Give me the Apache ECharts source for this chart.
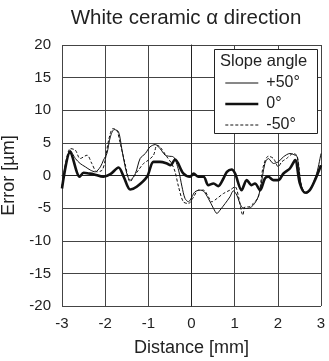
<!DOCTYPE html>
<html><head><meta charset="utf-8">
<script src="https://cdn.jsdelivr.net/npm/echarts@6/dist/echarts.min.js"></script>
<style>html,body{margin:0;padding:0;background:#fff}#c{width:329px;height:361px}</style>
</head><body><div id="c"></div>
<script>
const titleText = 'White ceramic \u03b1 direction';
const xTicks = [-3, -2, -1, 0, 1, 2, 3];
const yTicks = [-20, -15, -10, -5, 0, 5, 10, 15, 20];
const seriesNames = ['+50\u00b0', '0\u00b0', '-50\u00b0'];

const posX = [-3.00,-2.81,-2.69,-2.58,-2.46,-2.34,-2.23,-2.11,-2.04,-1.96,-1.88,-1.79,-1.69,-1.61,-1.50,-1.42,-1.30,-1.19,-1.07,-0.96,-0.84,-0.73,-0.61,-0.53,-0.42,-0.30,-0.22,-0.15,-0.07,0.01,0.08,0.20,0.28,0.39,0.51,0.59,0.66,0.78,0.89,0.97,1.05,1.16,1.28,1.39,1.51,1.59,1.70,1.78,1.90,2.01,2.13,2.28,2.40,2.45,2.55,2.67,2.78,2.90,3.00];
const posY = [-1.73,3.88,2.60,1.84,1.33,0.82,0.56,1.33,2.35,3.37,5.92,7.04,6.68,3.88,0.31,-0.71,0.31,2.60,3.37,4.39,4.74,4.13,3.11,2.96,2.86,0.82,-1.73,-3.52,-4.03,-3.27,-2.50,-2.24,-2.40,-3.52,-5.05,-5.82,-5.31,-4.29,-3.27,-2.35,-3.01,-4.80,-5.05,-4.80,-3.78,-2.24,1.84,2.60,1.84,2.09,2.86,3.37,3.11,2.86,-1.73,-2.76,-1.73,0.31,3.37];

const zeroX = [-3.00,-2.81,-2.59,-2.50,-2.38,-2.27,-2.04,-1.88,-1.69,-1.57,-1.42,-1.27,-1.03,-0.88,-0.73,-0.57,-0.49,-0.38,-0.19,-0.03,0.05,0.16,0.28,0.39,0.51,0.62,0.74,0.82,0.93,1.01,1.16,1.28,1.39,1.47,1.59,1.70,1.78,1.90,2.01,2.13,2.28,2.40,2.51,2.63,2.74,2.86,3.00];
const zeroY = [-1.99,3.62,-0.20,0.41,0.31,0.20,-0.20,0.20,1.22,-0.20,-2.14,-1.73,-0.20,2.09,2.09,1.84,1.58,2.45,0.31,-0.20,0.31,-0.20,-0.20,-1.48,-1.22,-1.63,-0.46,0.56,0.92,0.31,-2.24,-0.71,-1.48,-1.22,-2.24,-0.46,-0.20,-0.71,-0.71,0.31,1.07,2.35,-1.22,-2.65,-2.24,-0.71,1.58];

const negX = [-3.00,-2.81,-2.69,-2.58,-2.42,-2.31,-2.19,-2.07,-2.00,-1.92,-1.82,-1.73,-1.65,-1.54,-1.42,-1.34,-1.23,-1.11,-1.00,-0.88,-0.80,-0.73,-0.57,-0.46,-0.38,-0.30,-0.19,-0.07,0.05,0.16,0.28,0.39,0.47,0.59,0.74,0.89,1.01,1.09,1.19,1.24,1.32,1.43,1.55,1.66,1.78,1.90,2.01,2.09,2.20,2.36,2.45,2.55,2.67,2.78,2.90,3.00];
const negY = [-1.73,4.13,3.88,2.60,3.11,1.84,0.56,0.82,2.35,5.41,7.19,6.94,4.90,1.84,-0.97,-0.20,0.82,1.84,2.35,3.11,4.64,4.39,2.86,1.84,0.56,-1.73,-4.03,-4.29,-3.27,-2.24,-2.24,-3.27,-4.03,-3.52,-2.76,-2.24,-1.73,-3.27,-6.07,-4.80,-4.80,-4.29,-3.27,1.33,2.96,2.60,1.33,2.09,2.60,3.37,2.96,-1.73,-2.76,-1.73,-0.20,1.58];

const zip = (xs, ys) => xs.map((x, i) => [x, ys[i]]);
const font = 'Liberation Sans';
const txt = '#222';
const styles = [
  {color: '#111', width: 1, type: 'solid'},
  {color: '#111', width: 2.6, type: 'solid'},
  {color: '#111', width: 1, type: [3, 2]}
];

const chart = echarts.init(document.getElementById('c'), null, {renderer: 'canvas'});
chart.setOption({
  animation: false,
  backgroundColor: '#fff',
  title: {text: titleText, left: 181, top: 3, textAlign: 'center',
    textStyle: {fontFamily: font, fontSize: 20.5, fontWeight: 'normal', color: txt}},
  grid: {left: 62, right: 8, top: 45, bottom: 55, outerBoundsMode: 'none', containLabel: false},
  xAxis: {type: 'value', min: xTicks[0], max: xTicks[xTicks.length-1], interval: 1,
    name: 'Distance [mm]', nameLocation: 'middle', nameGap: 33,
    nameTextStyle: {fontFamily: font, fontSize: 18, color: txt},
    axisLine: {lineStyle: {color: '#222', width: 1}}, axisTick: {show: false},
    axisLabel: {fontFamily: font, fontSize: 15, color: txt, margin: 10},
    splitLine: {show: true, lineStyle: {color: '#444', width: 1}}},
  yAxis: {type: 'value', min: yTicks[0], max: yTicks[yTicks.length-1], interval: 5,
    name: 'Error [\u00b5m]', nameLocation: 'middle', nameGap: 31,
    nameTextStyle: {fontFamily: font, fontSize: 18, color: txt},
    axisLine: {show: true, lineStyle: {color: '#222', width: 1}}, axisTick: {show: false},
    axisLabel: {fontFamily: font, fontSize: 15, color: txt, margin: 11},
    splitLine: {show: true, lineStyle: {color: '#444', width: 1}}},
  legend: {orient: 'vertical', left: 219, top: 70, itemGap: 5, itemWidth: 33, itemHeight: 14, z: 30,
    itemStyle: {opacity: 0},
    textStyle: {fontFamily: font, fontSize: 16, color: txt, padding: [0,0,0,3]},
    data: seriesNames.map((n, i) => ({name: n, lineStyle: styles[i]}))},
  graphic: [
    {type: 'rect', left: 214, top: 49, shape: {width: 103, height: 84}, z: 10,
      style: {fill: '#fff', stroke: '#222', lineWidth: 1}},
    {type: 'text', left: 220, top: 53, z: 31,
      style: {text: 'Slope angle', font: '16.5px "Liberation Sans"', fill: txt}}
  ],
  series: [
    {name: seriesNames[0], type: 'line', data: zip(posX, posY), showSymbol: false, symbol: 'none', smooth: 0.3,
      lineStyle: styles[0], itemStyle: {color: '#111'}, z: 3},
    {name: seriesNames[1], type: 'line', data: zip(zeroX, zeroY), showSymbol: false, symbol: 'none', smooth: 0.3,
      lineStyle: styles[1], itemStyle: {color: '#111'}, z: 4},
    {name: seriesNames[2], type: 'line', data: zip(negX, negY), showSymbol: false, symbol: 'none', smooth: 0.3,
      lineStyle: styles[2], itemStyle: {color: '#111'}, z: 3}
  ]
});
</script></body></html>
